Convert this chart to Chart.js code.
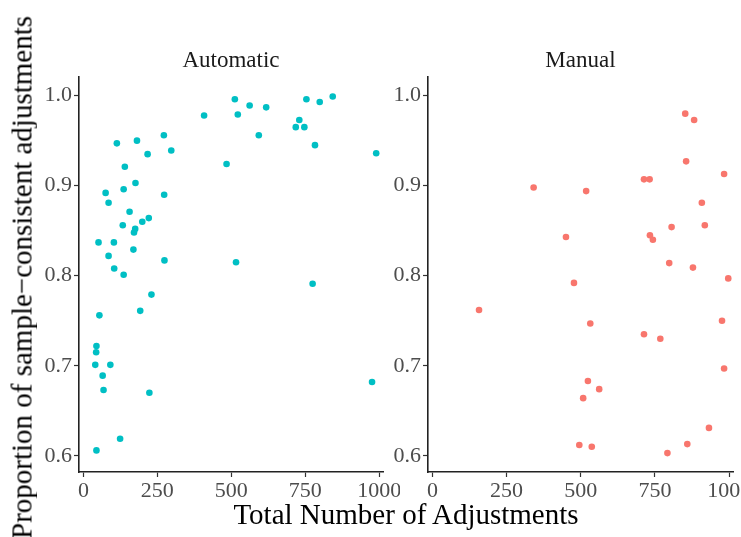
<!DOCTYPE html>
<html>
<head>
<meta charset="utf-8">
<script src="https://cdn.jsdelivr.net/npm/chart.js@4"></script>
<style>
  body { margin:0; background:#fff; width:741px; height:537px; overflow:hidden; position:relative; }
  canvas { position:absolute; }
  .lbl { position:absolute; font-family:"Liberation Serif", serif; color:#000; white-space:nowrap; text-align:center; }
</style>
</head>
<body>
<canvas id="auto" width="370" height="465" style="left:30px;top:40px"></canvas>
<canvas id="manual" width="362" height="465" style="left:379px;top:40px"></canvas>
<div class="lbl" id="ytitle" style="font-size:29px;line-height:29px;width:600px;height:29px;left:-278px;top:263px;transform:rotate(-90deg)">Proportion of sample−consistent adjustments</div>
<div class="lbl" id="xtitle" style="font-size:29px;line-height:29px;width:600px;left:106px;top:500px">Total Number of Adjustments</div>
<script>
// facet labels + tick values
const facets = ["Automatic", "Manual"];
const xTicks = [0, 250, 500, 750, 1000];
const yTicks = [0.6, 0.7, 0.8, 0.9, 1.0];

// Automatic panel
const autoX = [113, 181, 217, 272, 297, 408, 512, 522, 562, 618, 593, 484, 730, 718, 747, 754, 799, 843, 783, 990,
  140, 176, 136, 75, 85, 273, 156, 133, 199, 221, 175, 171, 51, 103, 169, 85, 274, 516, 104,
  136, 775, 230, 192, 54, 44, 43, 40, 91, 65, 68, 223, 976, 124, 44];
const autoY = [0.947, 0.950, 0.935, 0.956, 0.939, 0.978, 0.996, 0.979, 0.989, 0.987, 0.956, 0.924, 0.973, 0.965, 0.965, 0.996, 0.993, 0.999, 0.945, 0.936,
  0.921, 0.903, 0.896, 0.892, 0.881, 0.890, 0.871, 0.856, 0.860, 0.864, 0.852, 0.848, 0.837, 0.837, 0.829, 0.822, 0.817, 0.815, 0.808,
  0.801, 0.791, 0.779, 0.761, 0.756, 0.722, 0.715, 0.701, 0.701, 0.689, 0.673, 0.670, 0.682, 0.619, 0.606];

// Manual panel
const manualX = [852, 882, 855, 983, 713, 732, 341, 518, 908, 918, 806, 450, 733, 743, 798, 878,
  997, 477, 157, 976, 532, 713, 768, 983, 524, 562, 508, 932, 495, 537, 859, 792];
const manualY = [0.980, 0.973, 0.927, 0.913, 0.907, 0.907, 0.898, 0.894, 0.881, 0.856, 0.854, 0.843, 0.845, 0.840, 0.814, 0.809,
  0.797, 0.792, 0.762, 0.750, 0.747, 0.735, 0.730, 0.697, 0.683, 0.674, 0.664, 0.631, 0.612, 0.610, 0.613, 0.603];

const serif = "'Liberation Serif', serif";

// strip label, centred over the plot area (not the whole canvas)
const facetLabel = {
  id: 'facetLabel',
  afterDraw(chart, args, opts) {
    const ctx = chart.ctx, a = chart.chartArea;
    ctx.save();
    ctx.font = "23px " + serif;
    ctx.fillStyle = '#1a1a1a';
    ctx.textAlign = 'center';
    ctx.textBaseline = 'alphabetic';
    ctx.fillText(opts.text, (a.left + a.right) / 2, 27);
    ctx.restore();
  }
};

function makePanel(id, title, xs, ys, color, padRight) {
  var pts = xs.map((x, i) => ({x: x, y: ys[i]}));
  return new Chart(document.getElementById(id), {
    type: 'scatter',
    data: {
      datasets: [{
        data: pts,
        backgroundColor: color,
        borderWidth: 0,
        pointRadius: 3.3,
        pointHoverRadius: 3.3
      }]
    },
    plugins: [facetLabel],
    options: {
      responsive: false,
      animation: false,
      events: [],
      layout: {padding: {left: 0, right: padRight, top: 37, bottom: 0}},
      plugins: {
        legend: {display: false},
        tooltip: {enabled: false},
        facetLabel: {text: title}
      },
      scales: {
        x: {
          type: 'linear',
          min: -15,
          max: 1013,
          afterBuildTicks: s => { s.ticks = xTicks.map(v => ({value: v})); },
          afterFit: s => { s.height = 33; s.paddingLeft = 0; s.paddingRight = 0; },
          grid: {drawOnChartArea: false, drawTicks: true, tickLength: 5, color: '#333', tickWidth: 1.2},
          border: {display: true, color: '#222', width: 1.6},
          ticks: {
            color: '#4d4d4d',
            font: {family: serif, size: 22},
            padding: 1,
            maxRotation: 0,
            autoSkip: false,
            callback: v => String(v)
          }
        },
        y: {
          type: 'linear',
          min: 0.582,
          max: 1.0207,
          afterBuildTicks: s => { s.ticks = yTicks.map(v => ({value: v})); },
          afterFit: s => { s.width = 49; s.paddingTop = 0; s.paddingBottom = 0; },
          grid: {drawOnChartArea: false, drawTicks: true, tickLength: 5, color: '#333', tickWidth: 1.2},
          border: {display: true, color: '#222', width: 1.6},
          ticks: {
            color: '#4d4d4d',
            font: {family: serif, size: 22},
            padding: 2,
            autoSkip: false,
            callback: v => v.toFixed(1)
          }
        }
      }
    }
  });
}

makePanel("auto", facets[0], autoX, autoY, "#00BFC4", 17);
makePanel("manual", facets[1], manualX, manualY, "#F8766D", 8);
</script>
</body>
</html>
